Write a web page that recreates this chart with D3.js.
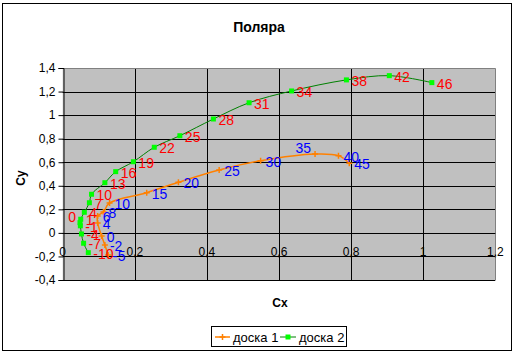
<!DOCTYPE html>
<html><head><meta charset="utf-8">
<script src="https://cdn.jsdelivr.net/npm/d3@7"></script>
<style>body{margin:0;background:#fff}svg{display:block}text{font-family:"Liberation Sans",Arial,sans-serif}</style>
</head><body><svg id="c" width="514" height="354"></svg>
<script>
const title = "Поляра";
const seriesNames = ["доска 1", "доска 2"];
const xTicks = [0, 0.2, 0.4, 0.6, 0.8, 1, 1.2];
const yTicks = [-0.4, -0.2, 0, 0.2, 0.4, 0.6, 0.8, 1, 1.2, 1.4];

const angles1 = [-5, -2, 0, 4, 6, 8, 10, 15, 20, 25, 30, 35, 40, 45];
const cx1 = [0.126, 0.117, 0.108, 0.097, 0.097, 0.113, 0.130, 0.233, 0.321, 0.434, 0.549, 0.700, 0.765, 0.795];
const cy1 = [-0.188, -0.103, -0.026, 0.084, 0.143, 0.177, 0.254, 0.341, 0.430, 0.534, 0.613, 0.670, 0.656, 0.591];

const angles2 = [-10, -7, -4, -1, 0, 1, 4, 7, 10, 13, 16, 19, 22, 25, 28, 31, 34, 38, 42, 46];
const cx2 = [0.071, 0.058, 0.052, 0.049, 0.048, 0.050, 0.060, 0.074, 0.080, 0.117, 0.147, 0.196, 0.254, 0.325, 0.418, 0.517, 0.635, 0.787, 0.906, 1.024];
const cy2 = [-0.168, -0.088, -0.009, 0.060, 0.087, 0.116, 0.175, 0.256, 0.328, 0.426, 0.520, 0.604, 0.727, 0.825, 0.967, 1.105, 1.205, 1.299, 1.335, 1.276];

// labels the original placed on the left of their point
const leftLabels1 = [35];
const leftLabels2 = [0];

const svg = d3.select("#c");
const fmt = v => String(v).replace(".", ",");
const x = d3.scaleLinear([0, 1.2], [62.7, 495.3]);
const y = d3.scaleLinear([-0.4, 1.4], [280, 68]);

svg.append("rect").attr("x", 2.5).attr("y", 3.5).attr("width", 509).attr("height", 347)
  .attr("fill", "#fff").attr("stroke", "#000");

svg.append("rect").attr("x", x(0)).attr("y", y(1.4)).attr("width", x(1.2) - x(0)).attr("height", y(-0.4) - y(1.4))
  .attr("fill", "#c0c0c0");

svg.append("g").selectAll("line").data(yTicks.filter(v => v < 1.4)).join("line")
  .attr("x1", x(0)).attr("x2", x(1.2)).attr("y1", d => Math.round(y(d)) + 0.5).attr("y2", d => Math.round(y(d)) + 0.5)
  .attr("stroke", "#000");
svg.append("g").selectAll("line").data(xTicks.filter(v => v > 0 && v < 1.2)).join("line")
  .attr("y1", y(1.4)).attr("y2", y(-0.4)).attr("x1", d => Math.round(x(d)) + 0.5).attr("x2", d => Math.round(x(d)) + 0.5)
  .attr("stroke", "#000");
svg.append("path").attr("d", `M${x(0)},${Math.round(y(1.4)) + 0.5}H${Math.round(x(1.2)) + 0.5}V${y(-0.4)}`)
  .attr("fill", "none").attr("stroke", "#808080");

const ya = svg.append("g").attr("transform", `translate(${Math.round(x(0)) + 0.5},0)`)
  .call(d3.axisLeft(y).tickValues(yTicks).tickFormat(fmt).tickSize(5).tickPadding(3));
ya.select(".domain").attr("stroke", "#000");
ya.selectAll(".tick line").attr("stroke", "#000");
ya.selectAll("text").attr("font-size", 12).attr("font-family", '"Liberation Sans",Arial,sans-serif').attr("fill", "#000");

svg.append("line").attr("x1", x(0)).attr("x2", x(1.2)).attr("y1", Math.round(y(0)) + 0.5).attr("y2", Math.round(y(0)) + 0.5).attr("stroke", "#000");
svg.append("g").selectAll("text").data(xTicks).join("text")
  .attr("x", d => x(d)).attr("y", y(0) + 23).attr("text-anchor", "middle").attr("font-size", 12).text(fmt);

svg.append("text").attr("x", 259).attr("y", 32).attr("text-anchor", "middle").attr("font-size", 14).attr("font-weight", "bold").text(title);
svg.append("text").attr("x", 280).attr("y", 307).attr("text-anchor", "middle").attr("font-size", 12).attr("font-weight", "bold").text("Cx");
svg.append("text").attr("transform", "translate(25,178) rotate(-90)").attr("text-anchor", "middle").attr("font-size", 12).attr("font-weight", "bold").text("Cy");

const d1 = angles1.map((a, i) => ({a, x: cx1[i], y: cy1[i], left: leftLabels1.includes(a)}));
const d2 = angles2.map((a, i) => ({a, x: cx2[i], y: cy2[i], left: leftLabels2.includes(a)}));
const line = d3.line().x(d => x(d.x)).y(d => y(d.y)).curve(d3.curveCatmullRom.alpha(0.5));

const orange = "#ff8000", dgreen = "#008000", lgreen = "#00ff00";
svg.append("path").datum(d1).attr("d", line).attr("fill", "none").attr("stroke", orange).attr("stroke-width", 1.5);
svg.append("g").selectAll("path").data(d1).join("path")
  .attr("d", d => `M${x(d.x) - 3},${y(d.y)}h6M${x(d.x)},${y(d.y) - 3}v6`).attr("stroke", orange).attr("stroke-width", 1.5);

svg.append("path").datum(d2).attr("d", line).attr("fill", "none").attr("stroke", dgreen).attr("stroke-width", 1);
svg.append("g").selectAll("rect").data(d2).join("rect")
  .attr("x", d => x(d.x) - 2.5).attr("y", d => y(d.y) - 2.5).attr("width", 5).attr("height", 5).attr("fill", lgreen);

function labels(data, color) {
  svg.append("g").selectAll("text").data(data).join("text")
    .attr("x", d => d.left ? x(d.x) - 4 : x(d.x) + 5).attr("y", d => d.left ? y(d.y) - 1 : y(d.y) + 6)
    .attr("text-anchor", d => d.left ? "end" : "start")
    .attr("font-size", 14).attr("fill", color).text(d => d.a);
}
labels(d1, "#0000ff");
labels(d2, "#ff0000");

const lg = svg.append("g");
lg.append("rect").attr("x", 211.5).attr("y", 326.5).attr("width", 135).attr("height", 20).attr("fill", "#fff").attr("stroke", "#000");
lg.append("line").attr("x1", 215).attr("x2", 230).attr("y1", 337).attr("y2", 337).attr("stroke", orange).attr("stroke-width", 1.5);
lg.append("path").attr("d", "M219.5,337h6M222.5,334v6").attr("stroke", orange).attr("stroke-width", 1.5);
lg.append("text").attr("x", 233).attr("y", 342).attr("font-size", 13).text(seriesNames[0]);
lg.append("line").attr("x1", 280).attr("x2", 296).attr("y1", 337).attr("y2", 337).attr("stroke", dgreen);
lg.append("rect").attr("x", 285.5).attr("y", 334.5).attr("width", 5).attr("height", 5).attr("fill", lgreen);
lg.append("text").attr("x", 299).attr("y", 342).attr("font-size", 13).text(seriesNames[1]);
</script></body></html>
